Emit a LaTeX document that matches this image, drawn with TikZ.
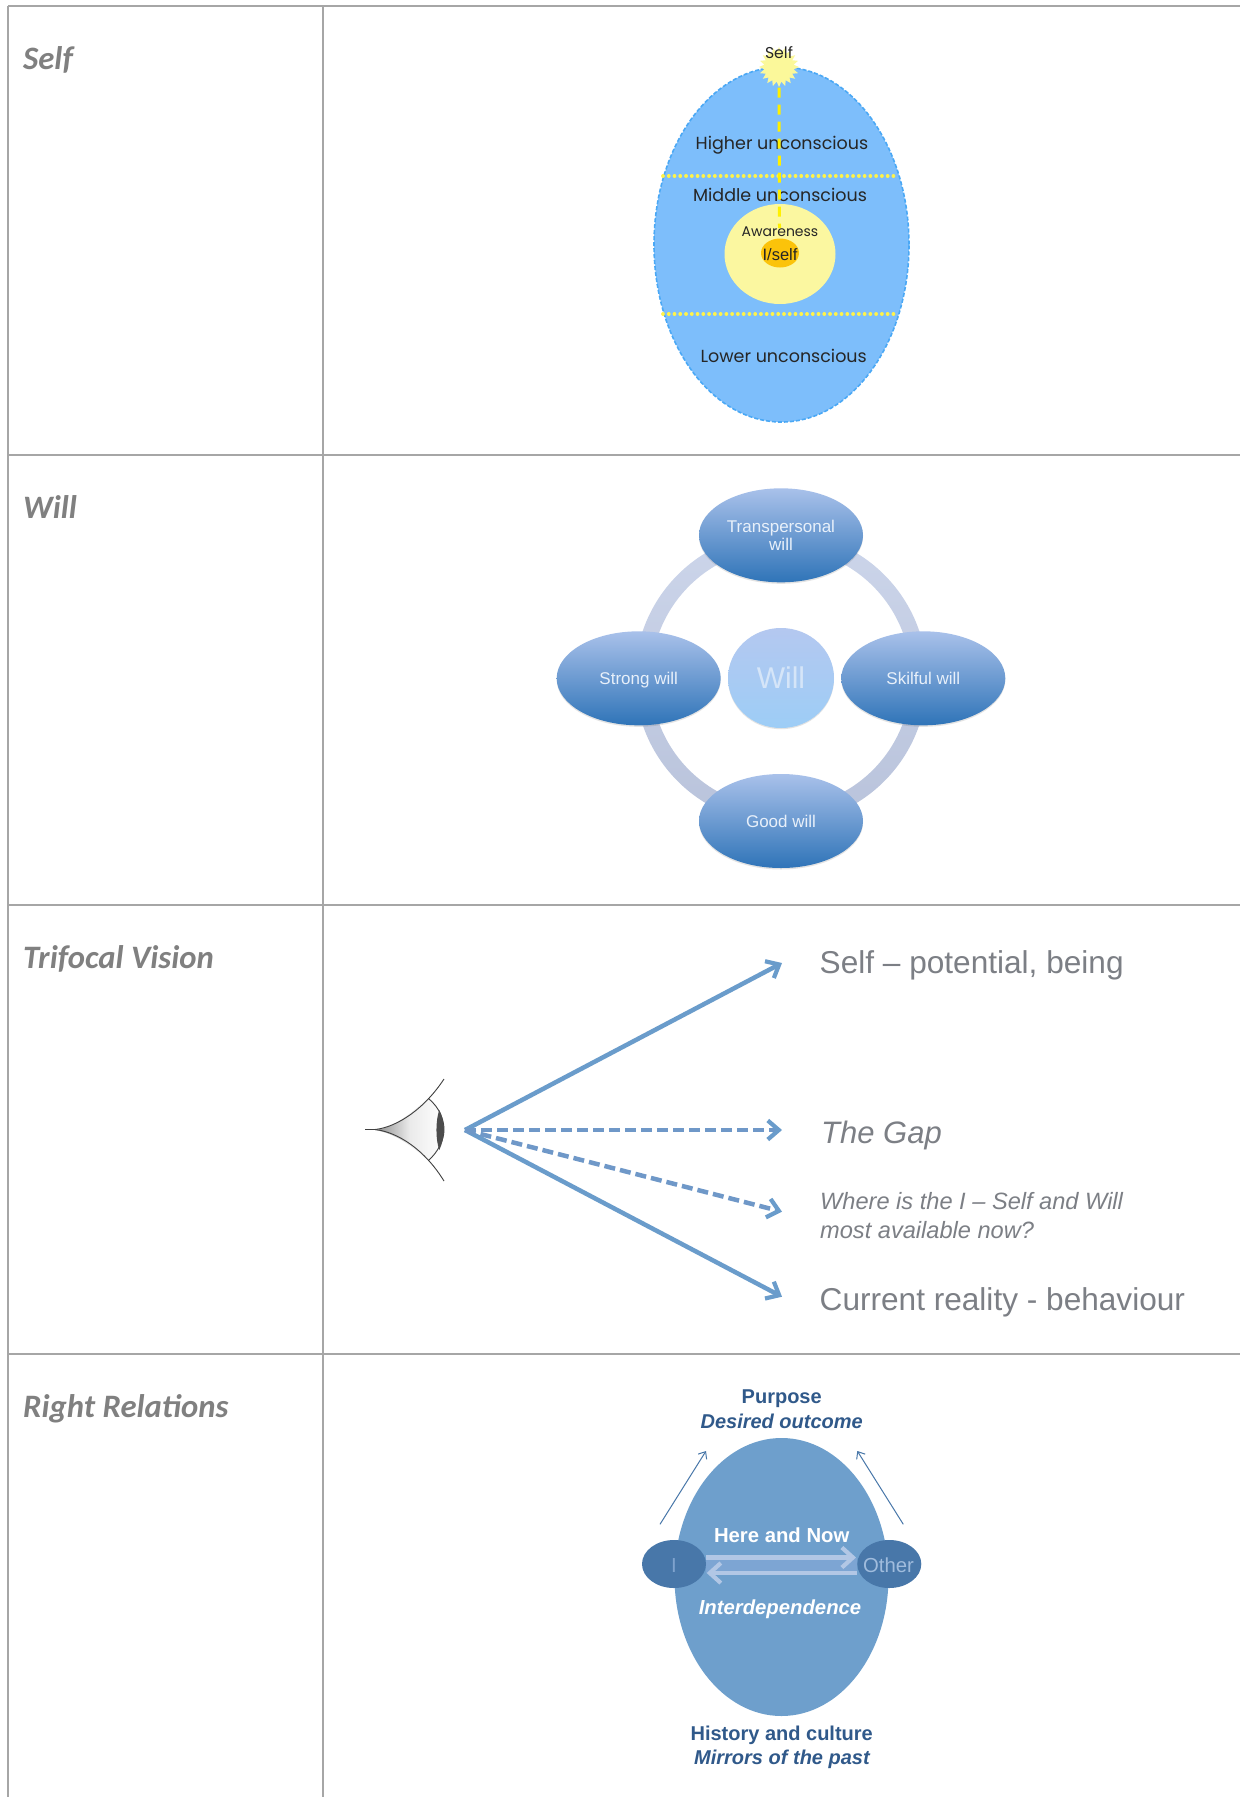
\documentclass[tikz,border=0pt]{standalone}
\usepackage{fontspec}
\setmainfont{Liberation Sans}
\newfontfamily\labfont{Carlito}
\newfontfamily\gothfont{Poppins}
\usetikzlibrary{shapes.geometric,arrows.meta,shadows}
\newcommand{\fs}[1]{\fontsize{#1}{#1}\selectfont}
\definecolor{gridc}{HTML}{A6A6A6}
\definecolor{labc}{HTML}{808080}
\definecolor{eggfill}{HTML}{7DBEFB}
\definecolor{eggline}{HTML}{4AA8F5}
\definecolor{sunc}{HTML}{FBF89A}
\definecolor{awarec}{HTML}{FBF7A0}
\definecolor{orangec}{HTML}{FBC30A}
\definecolor{inkc}{HTML}{262626}
\definecolor{arrowc}{HTML}{6A9CCB}
\definecolor{dashc}{HTML}{6F98C8}
\definecolor{txtc}{HTML}{7C7F85}
\definecolor{rrfill}{HTML}{6E9FCC}
\definecolor{rrdark}{HTML}{4877A9}
\definecolor{rrtext}{HTML}{30598A}
\definecolor{pilltop}{HTML}{A9C1EA}
\definecolor{pillmid}{HTML}{6E9ED2}
\definecolor{pillbot}{HTML}{2F74B8}
\definecolor{pilltxt}{HTML}{E8F0FA}
\definecolor{blockc}{HTML}{B2C7E5}
\definecolor{dotc}{HTML}{FFF34A}
\definecolor{vlinec}{HTML}{FFF000}
\definecolor{ringtop}{HTML}{CCD5EA}
\definecolor{ringbot}{HTML}{B9C3DB}
\definecolor{hubtop}{HTML}{B4C8F0}
\definecolor{hubbot}{HTML}{9DCDF6}
\definecolor{hubtxt}{HTML}{D5E5F8}
\definecolor{bandc}{HTML}{7DA5D3}
\definecolor{itxt}{HTML}{7FA3CE}
\definecolor{otxt}{HTML}{A0BCDD}
\tikzset{
 x=1pt,y=-1pt,
 gridline/.style={draw=gridc,line width=2pt},
 lab/.style={anchor=base west,inner sep=0,text=labc,font=\labfont\bfseries\itshape\fs{32.7}},
 goth/.style={anchor=base,inner sep=0,text=inkc,font=\gothfont\fs{#1}},
 pill/.style={ellipse,inner sep=0,minimum width=164pt,minimum height=94pt,shade,top color=pilltop,middle color=pillmid,bottom color=pillbot,
   drop shadow={shadow xshift=0pt,shadow yshift=-1.5pt,opacity=.18,fill=black!60}},
 pilltext/.style={anchor=base,inner sep=0,text=pilltxt,font=\fs{17},align=center},
 dotline/.style={draw=dotc,line width=3.8pt,line cap=round,dash pattern=on .01pt off 5.75pt},
 ray/.style={draw=arrowc,line width=4.5pt,-{Straight Barb[length=11pt,width=19pt,line width=4.2pt]}},
 dray/.style={draw=dashc,line width=4.5pt,dash pattern=on 11pt off 5pt,-{Straight Barb[length=11pt,width=19pt,line width=4.2pt,color=arrowc]}},
 tv/.style={anchor=base west,inner sep=0,text=txtc},
 rrt/.style={anchor=base,inner sep=0,text=rrtext,font=\bfseries\fs{20}},
 rrw/.style={anchor=base,inner sep=0,text=white,font=\bfseries\fs{20}},
 thinarr/.style={draw=rrdark,line width=1pt,-{Straight Barb[length=6pt,width=10pt,line width=1pt]}},
 blockarr/.style={draw=blockc,line width=4.5pt,-{Straight Barb[length=11pt,width=20pt,line width=4.2pt]}},
}
\begin{document}
\begin{tikzpicture}
\useasboundingbox (0,0) rectangle (1240,1797);
\fill[white] (0,0) rectangle (1240,1797);
% grid
\coordinate (gTL) at (8,6); \coordinate (gTR) at (1240,6);
\coordinate (gBL) at (8,1797); \coordinate (gCT) at (323,6); \coordinate (gCB) at (323,1797);
\coordinate (g1L) at (8,455); \coordinate (g1R) at (1240,455);
\coordinate (g2L) at (8,905); \coordinate (g2R) at (1240,905);
\coordinate (g3L) at (8,1354); \coordinate (g3R) at (1240,1354);
\draw[gridline] (gTL)--(gTR); \draw[gridline] (g1L)--(g1R); \draw[gridline] (g2L)--(g2R); \draw[gridline] (g3L)--(g3R);
\draw[gridline] (gTL)--(gBL); \draw[gridline] (gCT)--(gCB);
\node[lab] (lSelf) at (23,69) {Self};
\node[lab] (lWill) at (23,518.5) {Will};
\node[lab] (lTri) at (23,968) {Trifocal Vision};
\node[lab] (lRR) at (23,1417) {Right Relations};
% ---- Self
\node[ellipse,inner sep=0,minimum width=255pt,minimum height=355pt,fill=eggfill,draw=eggline,line width=1.6pt,dash pattern=on 4pt off 2pt] (egg) at (781.5,244.5) {};
\coordinate (d1L) at (663,176); \coordinate (d1R) at (898,176);
\coordinate (d2L) at (663,314); \coordinate (d2R) at (898,314);
\draw[dotline] (d1L)--(d1R);
\draw[dotline] (d2L)--(d2R);
\node[ellipse,inner sep=0,minimum width=111pt,minimum height=100pt,fill=awarec] (aware) at (780,254) {};
\node[ellipse,inner sep=0,minimum width=38pt,minimum height=29pt,fill=orangec] (iself) at (780,253) {};
\node[star,star points=20,star point ratio=1.35,inner sep=0,minimum size=40pt,fill=sunc] (sun) at (779,67) {};
\node[goth=15.7] (tSelf) at (779,58) {Self};
\node[goth=17.5] (tHi) at (782,149) {Higher unconscious};
\node[goth=17.5] (tMid) at (780,201) {Middle unconscious};
\node[goth=17.5] (tLo) at (783.7,362) {Lower unconscious};
\node[goth=14] (tAw) at (780,236) {Awareness};
\node[anchor=base,inner sep=0,text=inkc,font=\fs{16.5}] (tI) at (780,260) {I/self};
\coordinate (vEnd) at (779.5,228);
\draw[draw=vlinec,line width=3pt,dash pattern=on 10pt off 7pt] (sun.south) -- (vEnd);
% ---- Will
\coordinate (wc) at (781,678);
\path[top color=ringtop,bottom color=ringbot,even odd rule] (wc) circle[radius=146pt] (wc) circle[radius=130pt];
\node[pill] (wT) at (781,535.3) {};
\node[pill] (wL) at (638.7,678.3) {};
\node[pill] (wR) at (923.3,678.3) {};
\node[pill] (wB) at (781,821) {};
\node[ellipse,inner sep=0,minimum width=106pt,minimum height=100pt,shade,top color=hubtop,bottom color=hubbot,
 drop shadow={shadow xshift=0pt,shadow yshift=-1.2pt,opacity=.18,fill=black!60}] (wC) at (781,678) {};
\node[pilltext] (tT1) at (781,532.7) {Transpersonal};
\node[pilltext] (tT2) at (781,550.7) {will};
\node[pilltext] (tL) at (638.7,684) {Strong will};
\node[pilltext] (tR) at (923.3,684) {Skilful will};
\node[pilltext] (tB) at (781,827) {Good will};
\node[anchor=base,inner sep=0,text=hubtxt,font=\fs{30}] (tC) at (781,688.5) {Will};
% ---- Trifocal
\coordinate (origin) at (465,1130);
\coordinate (tipS) at (782,963);
\coordinate (tipG) at (782,1130);
\coordinate (tipW) at (782,1211.7);
\coordinate (tipC) at (782,1296.7);
\draw[ray] (origin)--(tipS);
\draw[ray] (origin)--(tipC);
\draw[dray] (origin)--(tipG);
\draw[dray] (origin)--(tipW);
\path[left color=black!45,right color=white,middle color=black!8]
 (375,1130) .. controls (395,1128) and (412,1112) .. (428.3,1098.3) .. controls (440,1108) and (444,1120) .. (444,1130) .. controls (444,1140) and (438,1152) .. (428.3,1160.7) .. controls (412,1146) and (395,1133) .. (375,1130) -- cycle;
\draw[draw=black!75,line width=.9pt] (365,1129.5) -- (375,1129.5) .. controls (398,1127) and (425,1108) .. (444,1079);
\draw[draw=black!75,line width=.9pt] (365,1129.5) -- (375,1129.5) .. controls (398,1132) and (425,1150) .. (444,1181);
\draw[draw=black!75,line width=.9pt] (428.3,1098.3) .. controls (440,1108) and (444,1120) .. (444,1130) .. controls (444,1140) and (438,1152) .. (428.3,1160.7);
\fill[black!70] (439.3,1110) .. controls (442,1116) and (444,1123) .. (444,1130) .. controls (444,1137) and (442,1144) .. (439.3,1150) .. controls (435.5,1140) and (435.5,1120) .. (439.3,1110) -- cycle;
\node[tv,font=\fs{31.6}] (tS) at (819.5,973.7) {Self – potential, being};
\node[tv,font=\itshape\fs{31}] (tG) at (821,1143) {The Gap};
\node[tv,font=\itshape\fs{23.6}] (tW1) at (820,1209) {Where is the I – Self and Will};
\node[tv,font=\itshape\fs{23.6}] (tW2) at (820,1238) {most available now?};
\node[tv,font=\fs{31.6}] (tCR) at (819.5,1310) {Current reality - behaviour};
% ---- Right relations
\node[ellipse,inner sep=0,minimum width=214pt,minimum height=278pt,fill=rrfill] (rr) at (781.5,1577) {};
\coordinate (band1) at (706,1557.5); \coordinate (band2) at (857,1573);
\fill[bandc] (band1) rectangle (band2);
\coordinate (u1) at (706,1557.5); \coordinate (u2) at (856,1557.5);
\coordinate (l1) at (857,1573); \coordinate (l2) at (706.7,1573);
\draw[blockarr] (u1)--(u2);
\draw[blockarr] (l1)--(l2);
\node[ellipse,inner sep=0,minimum width=64pt,minimum height=48pt,fill=rrdark] (nI) at (674,1564) {};
\node[ellipse,inner sep=0,minimum width=64pt,minimum height=48pt,fill=rrdark] (nO) at (889.3,1564) {};
\node[anchor=base,inner sep=0,text=itxt,font=\fs{20.3}] (tNI) at (674,1572) {I};
\node[anchor=base,inner sep=0,text=otxt,font=\fs{20.3}] (tNO) at (888.5,1572.5) {Other};
\coordinate (a1) at (660,1524.3); \coordinate (a1t) at (706,1451);
\coordinate (a2) at (903.3,1524.3); \coordinate (a2t) at (857.3,1451);
\draw[thinarr] (a1)--(a1t);
\draw[thinarr] (a2)--(a2t);
\node[rrt] (p1) at (781.7,1403.5) {Purpose};
\node[rrt,font=\bfseries\itshape\fs{20}] (p2) at (781.7,1428) {Desired outcome};
\node[rrw,font=\bfseries\fs{20.3}] (h1) at (781.7,1542) {Here and Now};
\node[rrw,font=\bfseries\itshape\fs{20.3}] (h2) at (780,1614.5) {Interdependence};
\node[rrt] (m1) at (781.7,1740) {History and culture};
\node[rrt,font=\bfseries\itshape\fs{20}] (m2) at (782,1764) {Mirrors of the past};
\end{tikzpicture}
\end{document}
